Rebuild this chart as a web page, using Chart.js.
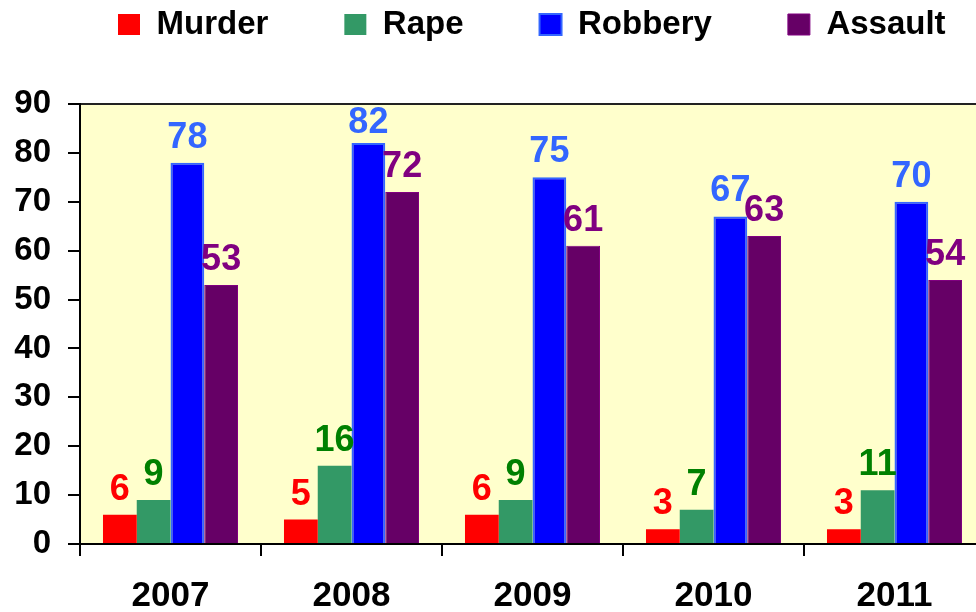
<!DOCTYPE html>
<html><head><meta charset="utf-8">
<script src="https://cdn.jsdelivr.net/npm/chart.js@4.4.1/dist/chart.umd.min.js"></script>
<style>
html,body{margin:0;padding:0;overflow:hidden;background:#fff;width:976px;height:612px}
#wrap{position:relative;width:985px;height:612px}
</style></head>
<body><div id="wrap"><canvas id="c" width="985" height="612"></canvas></div>
<script>
const years = ['2007', '2008', '2009', '2010', '2011'];
const seriesNames = ['Murder', 'Rape', 'Robbery', 'Assault'];
const murder = [6, 5, 6, 3, 3];
const rape = [9, 16, 9, 7, 11];
const robbery = [78, 82, 75, 67, 70];
const assault = [53, 72, 61, 63, 54];
const yTicks = [0, 10, 20, 30, 40, 50, 60, 70, 80, 90];

const FONT = "'Liberation Sans', Arial, Helvetica, sans-serif";
const barColors = ['#ff0000', '#339966', '#0000ff', '#660066'];
const borderColors = ['#ff0000', '#339966', '#3366ff', '#800080'];
const borderWidths = [0, 0, 2, 1];
const labelColors = ['#ff0000', '#008000', '#3366ff', '#800080'];
const seriesValues = [murder, rape, robbery, assault];

const bgPlugin = {
  id: 'plotBg',
  beforeDraw(chart) {
    const a = chart.chartArea, ctx = chart.ctx;
    ctx.save();
    ctx.fillStyle = '#ffffcc';
    ctx.fillRect(a.left, a.top, a.right - a.left, a.bottom - a.top);
    ctx.restore();
  }
};

const legendLayoutPlugin = {
  id: 'legendLayout',
  beforeLayout(chart) {
    const lg = chart.legend;
    if (lg && !lg.__patched) {
      const f = lg.fit;
      lg.fit = function () { f.call(this); this.height = 172; };
      lg.__patched = true;
    }
  },
  afterLayout(chart) {
    const lg = chart.legend;
    if (lg) { lg.left = 42; lg.right = 1060; }
  }
};

const valueLabels = {
  id: 'valueLabels',
  afterDatasetsDraw(chart) {
    const ctx = chart.ctx;
    const top = chart.chartArea.top;
    ctx.save();
    ctx.font = "bold 36px " + FONT;
    ctx.textAlign = 'center';
    ctx.textBaseline = 'alphabetic';
    chart.data.datasets.forEach((ds, di) => {
      const meta = chart.getDatasetMeta(di);
      ctx.fillStyle = labelColors[di];
      meta.data.forEach((bar, i) => {
        const y = Math.max(bar.y - 15, top + 29);
        ctx.fillText(String(ds.data[i]), bar.x, y);
      });
    });
    ctx.restore();
  }
};

new Chart(document.getElementById('c'), {
  type: 'bar',
  data: {
    labels: years,
    datasets: seriesNames.map((n, i) => ({
      label: n,
      data: seriesValues[i],
      backgroundColor: barColors[i],
      borderColor: borderColors[i],
      borderWidth: borderWidths[i],
      categoryPercentage: 0.746,
      barPercentage: 1.0
    }))
  },
  options: {
    responsive: false,
    animation: false,
    layout: { padding: { top: -68, left: 0, right: 0, bottom: 0 } },
    plugins: {
      tooltip: { enabled: false },
      legend: {
        display: true,
        position: 'top',
        align: 'start',
        labels: {
          boxWidth: 22,
          boxHeight: 21,
          padding: 76,
          color: '#000',
          font: { family: FONT, size: 33, weight: 'bold' }
        }
      }
    },
    scales: {
      x: {
        grid: { offset: true, drawOnChartArea: false, tickLength: 12, tickColor: '#000', lineWidth: 2 },
        border: { display: true, color: '#000', width: 2 },
        ticks: { color: '#000', padding: 19, font: { family: FONT, size: 35, weight: 'bold' }, maxRotation: 0 },
        afterFit(s) { s.height = 68; }
      },
      y: {
        min: yTicks[0],
        max: yTicks[yTicks.length - 1],
        grid: {
          drawOnChartArea: true,
          tickLength: 12,
          tickColor: '#000',
          lineWidth: 2,
          color: (c) => (c.tick && c.tick.value === yTicks[yTicks.length - 1]) ? '#222' : 'rgba(0,0,0,0)'
        },
        border: { display: true, color: '#000', width: 2 },
        ticks: {
          stepSize: yTicks[1] - yTicks[0],
          color: '#000',
          padding: 17,
          font: { family: FONT, size: 33, weight: 'bold' }
        },
        afterFit(s) { s.width = 80; }
      }
    }
  },
  plugins: [bgPlugin, legendLayoutPlugin, valueLabels]
});
</script>
</body></html>
